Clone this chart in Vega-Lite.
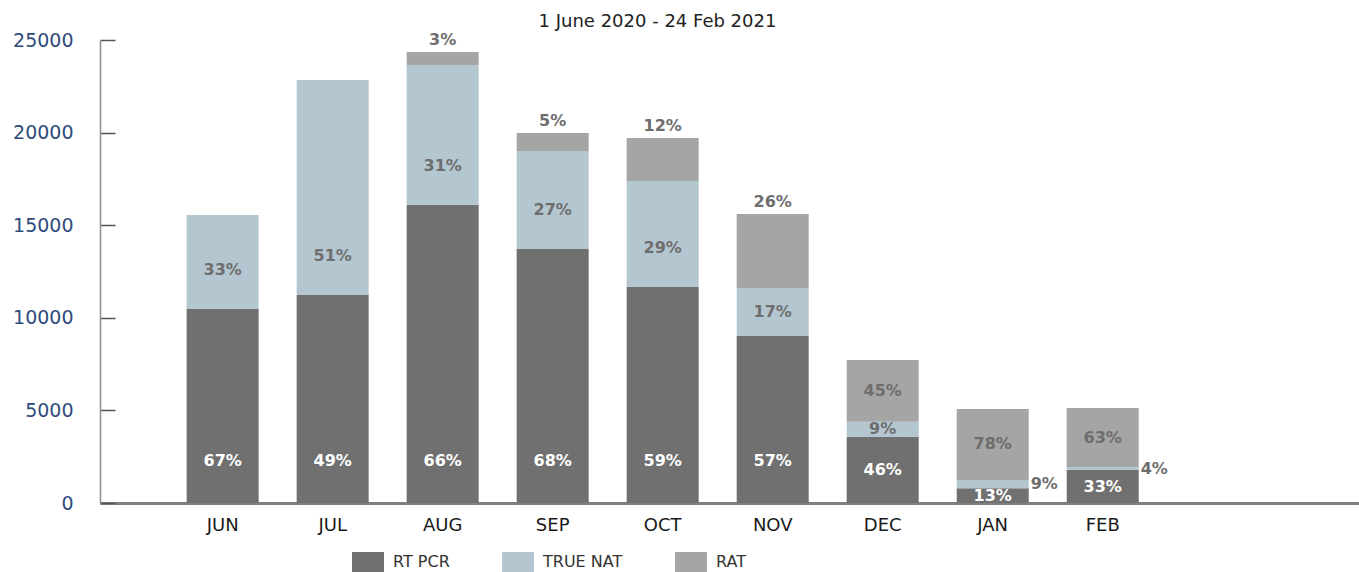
{
  "$schema": "https://vega.github.io/schema/vega-lite/v6.json",
  "width": 1259,
  "height": 463,
  "autosize": {"type": "none"},
  "padding": {"left": 100, "top": 40, "right": 0, "bottom": 69},
  "background": "white",
  "config": {
    "font": "DejaVu Sans",
    "view": {"stroke": null}
  },
  "title": {
    "text": "1 June 2020 - 24 Feb 2021",
    "anchor": "middle",
    "dx": -72,
    "offset": 0,
    "fontSize": 18,
    "fontWeight": "normal",
    "color": "#222222"
  },
  "data": {
    "values": [
      {"month": "JUN", "type": "RT PCR", "count": 10470, "pct": 67},
      {"month": "JUN", "type": "TRUE NAT", "count": 5080, "pct": 33},
      {"month": "JUL", "type": "RT PCR", "count": 11230, "pct": 49},
      {"month": "JUL", "type": "TRUE NAT", "count": 11610, "pct": 51},
      {"month": "AUG", "type": "RT PCR", "count": 16090, "pct": 66},
      {"month": "AUG", "type": "TRUE NAT", "count": 7560, "pct": 31},
      {"month": "AUG", "type": "RAT", "count": 700, "pct": 3},
      {"month": "SEP", "type": "RT PCR", "count": 13710, "pct": 68},
      {"month": "SEP", "type": "TRUE NAT", "count": 5290, "pct": 27},
      {"month": "SEP", "type": "RAT", "count": 980, "pct": 5},
      {"month": "OCT", "type": "RT PCR", "count": 11660, "pct": 59},
      {"month": "OCT", "type": "TRUE NAT", "count": 5730, "pct": 29},
      {"month": "OCT", "type": "RAT", "count": 2320, "pct": 12},
      {"month": "NOV", "type": "RT PCR", "count": 9020, "pct": 57},
      {"month": "NOV", "type": "TRUE NAT", "count": 2590, "pct": 17},
      {"month": "NOV", "type": "RAT", "count": 4000, "pct": 26},
      {"month": "DEC", "type": "RT PCR", "count": 3560, "pct": 46},
      {"month": "DEC", "type": "TRUE NAT", "count": 830, "pct": 9},
      {"month": "DEC", "type": "RAT", "count": 3330, "pct": 45},
      {"month": "JAN", "type": "RT PCR", "count": 800, "pct": 13},
      {"month": "JAN", "type": "TRUE NAT", "count": 440, "pct": 9},
      {"month": "JAN", "type": "RAT", "count": 3840, "pct": 78},
      {"month": "FEB", "type": "RT PCR", "count": 1780, "pct": 33},
      {"month": "FEB", "type": "TRUE NAT", "count": 160, "pct": 4},
      {"month": "FEB", "type": "RAT", "count": 3190, "pct": 63}
    ]
  },
  "transform": [
    {"calculate": "indexof(['RT PCR','TRUE NAT','RAT'], datum.type)", "as": "k"},
    {"calculate": "datum.pct + '%'", "as": "label"}
  ],
  "encoding": {
    "x": {
      "field": "month",
      "type": "nominal",
      "sort": null,
      "scale": {
        "domain": ["JUN", "JUL", "AUG", "SEP", "OCT", "NOV", "DEC", "JAN", "FEB", " "],
        "paddingInner": 0.3455,
        "paddingOuter": 0.895,
        "align": 0.44
      },
      "axis": {
        "title": null,
        "labelAngle": 0,
        "ticks": false,
        "domainColor": "#7f7f7f",
        "domainWidth": 3,
        "labelFontSize": 18,
        "labelColor": "#1a1a1a",
        "labelPadding": 13
      }
    }
  },
  "layer": [
    {
      "mark": {"type": "bar"},
      "encoding": {
        "y": {
          "field": "count",
          "type": "quantitative",
          "stack": "zero",
          "scale": {"domain": [0, 25000], "nice": false},
          "axis": {
            "title": null,
            "grid": false,
            "format": "d",
            "values": [0, 5000, 10000, 15000, 20000, 25000],
            "tickSize": -15,
            "tickColor": "#555555",
            "tickWidth": 1.5,
            "domainColor": "#8c8c8c",
            "domainWidth": 1.5,
            "labelFontSize": 19,
            "labelColor": "#2F4B7C",
            "labelPadding": 42
          }
        },
        "color": {
          "field": "type",
          "type": "nominal",
          "scale": {
            "domain": ["RT PCR", "TRUE NAT", "RAT"],
            "range": ["#707070", "#B4C6D0", "#A5A5A5"]
          },
          "legend": {
            "title": null,
            "orient": "none",
            "direction": "horizontal",
            "legendX": 252,
            "legendY": 506,
            "padding": 0,
            "symbolType": "M-1,-0.625H1V0.625H-1Z",
            "symbolSize": 1024,
            "symbolStrokeWidth": 0,
            "symbolOpacity": 1,
            "labelFontSize": 16,
            "labelColor": "#333333",
            "labelOffset": 9,
            "columnPadding": 52
          }
        },
        "order": {"field": "k", "type": "quantitative"}
      }
    },
    {
      "transform": [
        {"stack": "count", "groupby": ["month"], "sort": [{"field": "k", "order": "ascending"}], "as": ["y0", "y1"]},
        {"filter": "!(datum.type === 'RAT' && datum.pct < 30) && !(datum.type === 'TRUE NAT' && datum.count < 600)"},
        {"calculate": "datum.type === 'RT PCR' ? min(datum.y1 / 2, 2270) : (datum.type === 'TRUE NAT' ? datum.y0 + min((datum.y1 - datum.y0) / 2, 2100) : (datum.y0 + datum.y1) / 2)", "as": "ly"}
      ],
      "mark": {"type": "text", "fontSize": 16, "fontWeight": "bold", "baseline": "middle", "align": "center"},
      "encoding": {
        "y": {"field": "ly", "type": "quantitative", "stack": null},
        "text": {"field": "label"},
        "color": {"condition": {"test": "datum.type === 'RT PCR'", "value": "#ffffff"}, "value": "#6e6e6e"}
      }
    },
    {
      "transform": [
        {"stack": "count", "groupby": ["month"], "sort": [{"field": "k", "order": "ascending"}], "as": ["y0", "y1"]},
        {"filter": "datum.type === 'RAT' && datum.pct < 30"}
      ],
      "mark": {"type": "text", "fontSize": 16, "fontWeight": "bold", "baseline": "bottom", "align": "center", "dy": -4, "color": "#6e6e6e"},
      "encoding": {
        "y": {"field": "y1", "type": "quantitative", "stack": null},
        "text": {"field": "label"}
      }
    },
    {
      "transform": [
        {"stack": "count", "groupby": ["month"], "sort": [{"field": "k", "order": "ascending"}], "as": ["y0", "y1"]},
        {"filter": "datum.type === 'TRUE NAT' && datum.count < 600"},
        {"calculate": "(datum.y0 + datum.y1) / 2", "as": "ly"}
      ],
      "mark": {"type": "text", "fontSize": 16, "fontWeight": "bold", "baseline": "middle", "align": "left", "dx": 38, "color": "#6e6e6e"},
      "encoding": {
        "y": {"field": "ly", "type": "quantitative", "stack": null},
        "text": {"field": "label"}
      }
    }
  ]
}
